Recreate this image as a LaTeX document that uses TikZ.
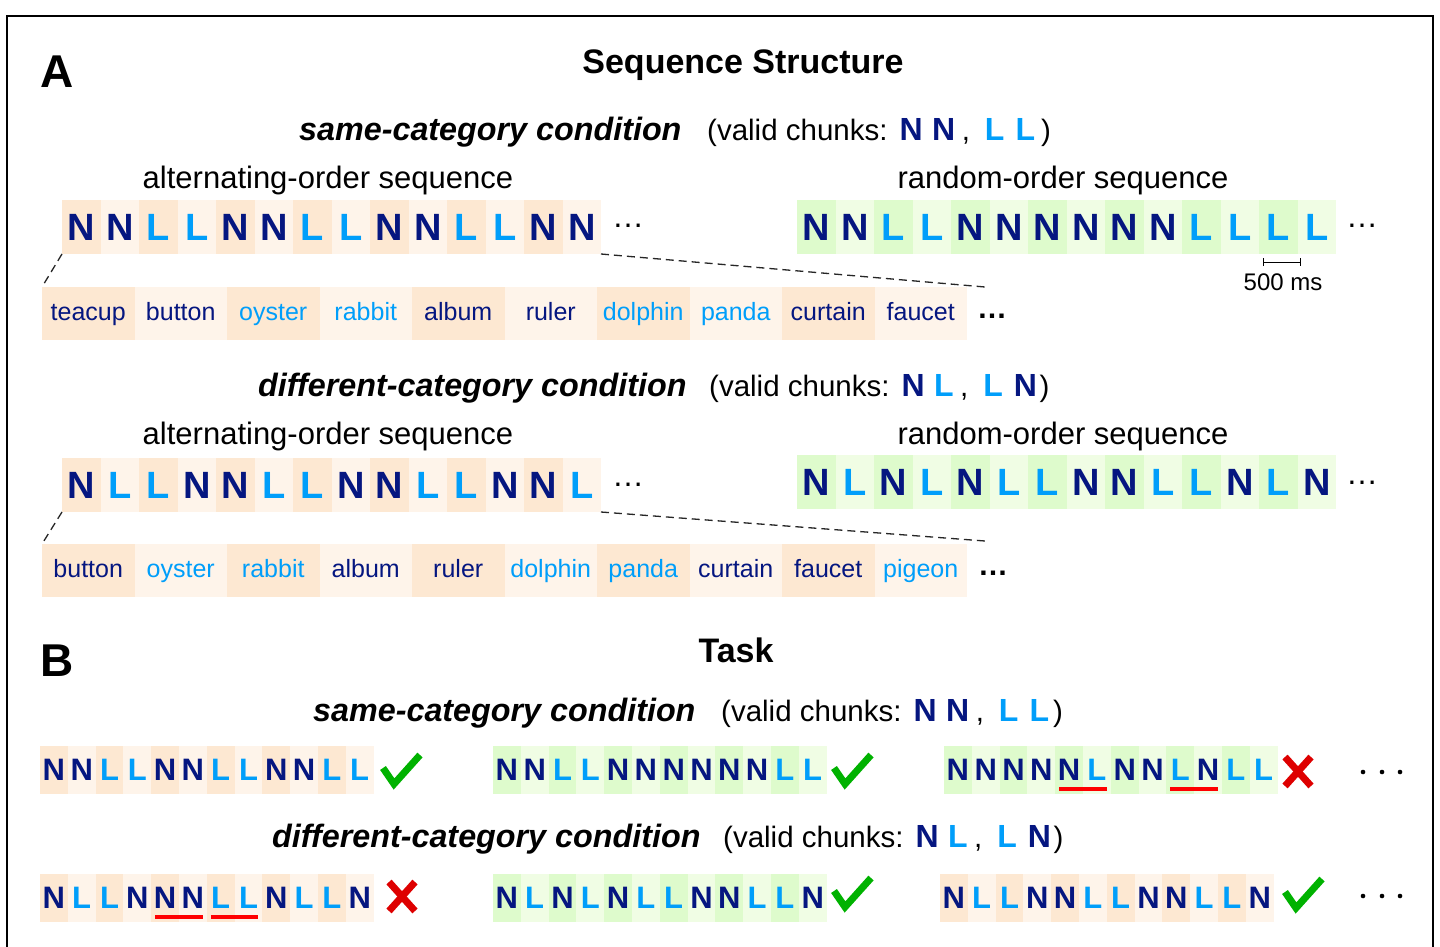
\documentclass[tikz,border=0pt]{standalone}
\usepackage{fontspec}
\setmainfont{Liberation Sans}
\usetikzlibrary{calc,arrows.meta}

\definecolor{navy}{RGB}{5,22,128}
\definecolor{lblue}{RGB}{0,158,250}
\definecolor{peachD}{RGB}{253,232,210}
\definecolor{peachL}{RGB}{254,244,234}
\definecolor{greenD}{RGB}{222,251,204}
\definecolor{greenL}{RGB}{240,253,228}
\definecolor{okgreen}{RGB}{0,178,0}
\definecolor{nored}{RGB}{222,0,0}
\definecolor{ulred}{RGB}{255,0,0}

% coloured letter of a sequence: N = navy, L = light blue
\newcommand\seqletter[1]{\if#1N\textcolor{navy}{N}\else\textcolor{lblue}{#1}\fi}
\newcommand\Nb{{\fontsize{32}{32}\selectfont\bfseries\color{navy}N}}
\newcommand\Lb{{\fontsize{32}{32}\selectfont\bfseries\color{lblue}L}}
% "(valid chunks: a b, c d)"; #5 is the gap before the closing parenthesis
\newcommand\validchunks[5]{(valid chunks:\hspace{12pt}#1\hspace{9.5pt}#2\hspace{6.5pt},\hspace{15pt}#3\hspace{11pt}#4\hspace{#5})}

% a row of letter cells: name, x0, ytop, cell width, cell style, palette, letters
\newcommand\seqrow[7]{%
  \foreach \c [count=\i] in {#7} {%
    \ifodd\i\relax\def\cfill{#6D}\else\def\cfill{#6L}\fi
    \node[#5, fill=\cfill, anchor=north west] (#1-\i) at ({#2+(\i-1)*#4}, #3) {\seqletter{\c}};
  }}

% a row of word cells: name, ytop, word/kind list
\newcommand\wordrow[3]{%
  \foreach \w/\k [count=\i] in {#3} {%
    \ifodd\i\relax\def\cfill{peachD}\else\def\cfill{peachL}\fi
    \if\k N\def\wcol{navy}\else\def\wcol{lblue}\fi
    \node[wordcell, fill=\cfill, text=\wcol, anchor=north west] (#1-\i) at ({42+(\i-1)*92.5}, #2) {\w};
  }}

\newcommand\okmark[2]{\draw[okstroke] ({#1+2},{#2+16}) -- ({#1+13},{#2+32}) -- ({#1+39},{#2+3});}
\newcommand\nomark[2]{%
  \draw[nostroke] ({#1+2},{#2+2}) -- ({#1+28},{#2+31});
  \draw[nostroke] ({#1+28},{#2+2}) -- ({#1+2},{#2+31});}

\begin{document}
\begin{tikzpicture}[x=1pt,y=-1pt,
  cell/.style={rectangle, inner sep=0pt, outer sep=0pt, draw=none},
  seqA/.style={cell, minimum width=38.5pt, minimum height=54pt, font=\fontsize{38}{38}\selectfont\bfseries},
  seqB/.style={cell, minimum width=27.8pt, minimum height=48pt, font=\fontsize{31}{31}\selectfont\bfseries},
  wordcell/.style={cell, minimum width=92.5pt, minimum height=53pt, text height=19pt, text depth=5pt, font=\fontsize{25}{25}\selectfont},
  lbl/.style={inner sep=0pt, anchor=base},
  panel/.style={lbl, anchor=base west, font=\fontsize{46}{46}\selectfont\bfseries},
  heading/.style={lbl, font=\fontsize{34}{34}\selectfont\bfseries},
  cond/.style={lbl, anchor=base west, font=\fontsize{32.3}{32}\selectfont\bfseries\itshape},
  chunk/.style={lbl, anchor=base west, font=\fontsize{29.5}{30}\selectfont},
  seqlabel/.style={lbl, font=\fontsize{31}{31}\selectfont},
  more/.style={lbl, font=\fontsize{32}{32}\selectfont},
  moreword/.style={lbl, font=\fontsize{30}{30}\selectfont\bfseries},
  zoomline/.style={draw=black!85, line width=1.3pt, dash pattern=on 8pt off 5pt},
  okstroke/.style={draw=okgreen, line width=7pt, line join=miter},
  nostroke/.style={draw=nored, line width=7pt},
  wrong/.style={draw=ulred, line width=3.5pt},
  frame/.style={draw=black, line width=1.3pt},
  ]
\useasboundingbox (0,0) rectangle (1440,947);
\fill[white] (0,0) rectangle (1440,947);
\draw[frame] (7,947) -- (7,16) -- (1433,16) -- (1433,947);

% ---------------- panel A: sequence structure ----------------
\node[panel] (A) at (40,88) {A};
\node[heading] (titleA) at (743,74) {Sequence Structure};

% same-category condition
\node[cond] (condA1) at (299,140) {same-category condition};
\node[chunk] (chunkA1) at (707,140) {\validchunks{\Nb}{\Nb}{\Lb}{\Lb}{6pt}};
\node[seqlabel] (altlabA1) at (328,188) {alternating-order sequence};
\node[seqlabel] (rndlabA1) at (1063,188) {random-order sequence};

\seqrow{altA}{62}{200}{38.5}{seqA}{peach}{N,N,L,L,N,N,L,L,N,N,L,L,N,N}
\node[more] (altA-more) at (628,227) {…};
\seqrow{rndA}{797}{200}{38.5}{seqA}{green}{N,N,L,L,N,N,N,N,N,N,L,L,L,L}
\node[more] (rndA-more) at (1362,227) {…};

\coordinate (barL) at (1263,262);
\coordinate (barR) at (1301,262);
\draw[line width=1pt, {Bar[width=8pt]}-{Bar[width=8pt]}] (barL) -- (barR);
\node[lbl, font=\fontsize{24}{24}\selectfont] (ms) at (1283,290) {500 ms};

\wordrow{wordA}{287}{teacup/N,button/N,oyster/L,rabbit/L,album/N,ruler/N,dolphin/L,panda/L,curtain/N,faucet/N}
\node[moreword] (wordA-more) at (992,318) {…};
\coordinate (wordA-end) at (985,287);
\draw[zoomline] (altA-1.south west) -- (wordA-1.north west);
\draw[zoomline] (altA-14.south east) -- (wordA-end);

% different-category condition
\node[cond] (condA2) at (258,396) {different-category condition};
\node[chunk] (chunkA2) at (709,396) {\validchunks{\Nb}{\Lb}{\Lb}{\Nb}{2.5pt}};
\node[seqlabel] (altlabA2) at (328,444) {alternating-order sequence};
\node[seqlabel] (rndlabA2) at (1063,444) {random-order sequence};

\seqrow{altB}{62}{458}{38.5}{seqA}{peach}{N,L,L,N,N,L,L,N,N,L,L,N,N,L}
\node[more] (altB-more) at (628,486) {…};
\seqrow{rndB}{797}{455}{38.5}{seqA}{green}{N,L,N,L,N,L,L,N,N,L,L,N,L,N}
\node[more] (rndB-more) at (1362,484) {…};

\wordrow{wordB}{544}{button/N,oyster/L,rabbit/L,album/N,ruler/N,dolphin/L,panda/L,curtain/N,faucet/N,pigeon/L}
\node[moreword] (wordB-more) at (993,575) {…};
\coordinate (wordB-end) at (985,541);
\draw[zoomline] (altB-1.south west) -- (wordB-1.north west);
\draw[zoomline] (altB-14.south east) -- (wordB-end);

% ---------------- panel B: task ----------------
\node[panel] (B) at (40,676) {B};
\node[heading] (titleB) at (736,662) {Task};

\node[cond] (condB1) at (313,721) {same-category condition};
\node[chunk] (chunkB1) at (721,721) {\validchunks{\Nb}{\Nb}{\Lb}{\Lb}{4pt}};

\seqrow{tA}{40}{746}{27.8}{seqB}{peach}{N,N,L,L,N,N,L,L,N,N,L,L}
\seqrow{tB}{493}{746}{27.8}{seqB}{green}{N,N,L,L,N,N,N,N,N,N,L,L}
\seqrow{tC}{944}{746}{27.8}{seqB}{green}{N,N,N,N,N,L,N,N,L,N,L,L}
\okmark{381}{752}
\okmark{832}{752}
\nomark{1283}{755}
\draw[wrong] ($(tC-5.south west)+(4,-5)$) -- ($(tC-6.south east)+(-4,-5)$);
\draw[wrong] ($(tC-9.south west)+(4,-5)$) -- ($(tC-10.south east)+(-4,-5)$);
\foreach \dx in {0,19,37} \fill (1363+\dx,772) circle (2.3);

\node[cond] (condB2) at (272,847) {different-category condition};
\node[chunk] (chunkB2) at (723,847) {\validchunks{\Nb}{\Lb}{\Lb}{\Nb}{2.5pt}};

\seqrow{uA}{40}{874}{27.8}{seqB}{peach}{N,L,L,N,N,N,L,L,N,L,L,N}
\seqrow{uB}{493}{874}{27.8}{seqB}{green}{N,L,N,L,N,L,L,N,N,L,L,N}
\seqrow{uC}{940}{874}{27.8}{seqB}{peach}{N,L,L,N,N,L,L,N,N,L,L,N}
\nomark{387}{880}
\okmark{832}{875}
\okmark{1283}{876}
\draw[wrong] ($(uA-5.south west)+(4,-5)$) -- ($(uA-6.south east)+(-4,-5)$);
\draw[wrong] ($(uA-7.south west)+(4,-5)$) -- ($(uA-8.south east)+(-4,-5)$);
\foreach \dx in {0,19,37} \fill (1363+\dx,896) circle (2.3);
\end{tikzpicture}
\end{document}
